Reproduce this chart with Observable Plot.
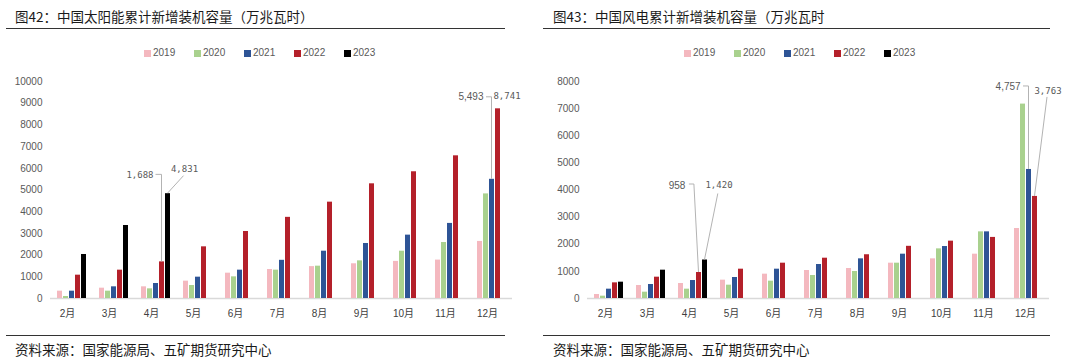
<!DOCTYPE html>
<html>
<head>
<meta charset="utf-8">
<script src="https://cdn.jsdelivr.net/npm/d3@7"></script>
<script src="https://cdn.jsdelivr.net/npm/@observablehq/plot@0.6"></script>
<style>
  html, body { margin: 0; padding: 0; background: #fff; }
  body { width: 1080px; height: 360px; overflow: hidden; position: relative; font-family: "Noto Sans CJK SC", "Liberation Sans", sans-serif; }
  .panel { position: absolute; top: 0; width: 540px; height: 360px; }
  .title { position: absolute; top: 6px; font-size: 13.5px; line-height: 20px; color: #1a1a1a; white-space: nowrap; }
  .rule { position: absolute; height: 1px; background: #333; }
  .legend { position: absolute; top: 46px; left: 0; height: 14px; }
  .item { position: absolute; top: 0; height: 14px; font-family: "Liberation Sans", Arial, sans-serif; font-size: 10px; line-height: 14px; color: #595959; white-space: nowrap; }
  .sw { position: absolute; left: 0; top: 4px; width: 7px; height: 7px; }
  .item span.t { position: absolute; left: 9px; top: 0; }
  .chart { position: absolute; top: 62px; left: 0; }
  .caption { position: absolute; top: 339px; font-size: 13.5px; line-height: 20px; color: #1a1a1a; white-space: nowrap; }
</style>
</head>
<body>
<div id="left" class="panel" style="left:0"></div>
<div id="right" class="panel" style="left:540px"></div>
<script>
// ---------- data ----------
const months = ["2月", "3月", "4月", "5月", "6月", "7月", "8月", "9月", "10月", "11月", "12月"];
const years = ["2019", "2020", "2021", "2022", "2023"];
const yearColors = ["#F4B8BF", "#A9D18E", "#2E5496", "#B4202A", "#000000"];

// 太阳能 (万千瓦)
const solar2019 = [338, 476, 538, 799, 1167, 1336, 1470, 1600, 1710, 1770, 2630];
const solar2020 = [92, 338, 445, 599, 998, 1306, 1490, 1735, 2180, 2580, 4820];
const solar2021 = [338, 538, 691, 983, 1306, 1760, 2180, 2535, 2920, 3460, 5493];
const solar2022 = [1075, 1306, 1688, 2381, 3088, 3740, 4440, 5285, 5840, 6575, 8741];
const solar2023 = [2028, 3364, 4831];
const solarTicks = [0, 1000, 2000, 3000, 4000, 5000, 6000, 7000, 8000, 9000, 10000];

// 风电 (万千瓦)
const wind2019 = [147, 479, 553, 676, 897, 1032, 1106, 1302, 1462, 1634, 2580];
const wind2020 = [86, 233, 344, 491, 639, 848, 995, 1302, 1830, 2457, 7167];
const wind2021 = [344, 516, 663, 774, 1081, 1253, 1462, 1634, 1916, 2457, 4757];
const wind2022 = [577, 786, 958, 1081, 1302, 1486, 1613, 1924, 2114, 2252, 3763];
const wind2023 = [602, 1044, 1420];
const windTicks = [0, 1000, 2000, 3000, 4000, 5000, 6000, 7000, 8000];

const solarTitle = "图42：中国太阳能累计新增装机容量（万兆瓦时）";
const windTitle = "图43：中国风电累计新增装机容量（万兆瓦时";
const sourceText = "资料来源：国家能源局、五矿期货研究中心";

// labelled bars: [month index, year index]
const solarLabelled = [[2, 3], [2, 4], [10, 2], [10, 3]];
const windLabelled = [[2, 3], [2, 4], [10, 2], [10, 3]];

// ---------- annotation styling (pixel offsets from bar top) ----------
const solarNoteStyle = [
  {mono: true, anchor: "end", dx: -8.5, dy: -87, path: [[0, 0], [0, -87], [-6, -87]]},
  {mono: true, anchor: "middle", dx: 16.5, dy: -25, path: [[0, 0], [16, -17.5]]},
  {mono: false, anchor: "end", dx: -8.5, dy: -83, path: [[0, 0], [0, -82], [-5.5, -82]]},
  {mono: true, anchor: "middle", dx: 9, dy: -12.5, path: null}
];
const windNoteStyle = [
  {mono: false, anchor: "end", dx: -13.6, dy: -87, path: [[0, 0], [-4.6, -88], [-9.6, -88]]},
  {mono: true, anchor: "middle", dx: 14, dy: -74.5, path: [[0, 0], [13.3, -66]]},
  {mono: false, anchor: "end", dx: -8.4, dy: -82.3, path: [[0, 0], [0, -83], [-5.5, -83]]},
  {mono: true, anchor: "middle", dx: 13, dy: -105, path: [[0, 0], [12.5, -99]]}
];

const fmt = d3.format(",");

function buildRows(series) {
  return years.flatMap((yr, i) => series[i].map((v, j) => ({month: months[j], year: yr, value: v})));
}

function noteMarks(series, labelled, styles) {
  const marks = [];
  labelled.forEach(([mi, yi], k) => {
    const st = styles[k];
    const d = {month: months[mi], year: years[yi], value: series[yi][mi]};
    if (st.path) {
      marks.push(Plot.dot([d], {
        fx: "month", x: "year", y: "value",
        render(index, scales, values) {
          const g = d3.create("svg:g");
          const bw = typeof scales.x.bandwidth === "function" ? scales.x.bandwidth() : (scales.x.bandwidth || 0);
          for (const i of index) {
            const cx = values.x[i] + bw / 2;
            const cy = values.y[i];
            const line = d3.line()(st.path.map(([px, py]) => [cx + px, cy + py]));
            g.append("path").attr("d", line).attr("fill", "none").attr("stroke", "#b3b3b3").attr("stroke-width", 1);
          }
          return g.node();
        }
      }));
    }
    marks.push(Plot.text([d], {
      fx: "month", x: "year", y: "value",
      text: (r) => fmt(r.value),
      dx: st.dx, dy: st.dy, textAnchor: st.anchor,
      fontFamily: st.mono ? "DejaVu Sans Mono, Liberation Mono, monospace" : "Liberation Sans, Arial, sans-serif",
      fontSize: st.mono ? 9 : 10,
      fill: "#595959"
    }));
  });
  return marks;
}

function chart(series, ticks, labelled, styles, marginLeft, labelShift) {
  return Plot.plot({
    width: 540,
    height: 266,
    marginTop: 19,
    marginBottom: 30,
    marginLeft,
    marginRight: 27,
    style: {fontFamily: "Liberation Sans, Arial, 'Noto Sans CJK SC', sans-serif", fontSize: "10px", color: "#595959", background: "#fff", overflow: "visible"},
    fx: {domain: months, padding: 0, label: null},
    x: {domain: years, axis: null, paddingInner: 0.2, paddingOuter: 0.9},
    y: {domain: [0, ticks[ticks.length - 1]], ticks, tickFormat: (d) => String(d), tickSize: 0, tickPadding: 8, label: null},
    color: {domain: years, range: yearColors},
    marks: [
      Plot.axisFx({anchor: "bottom", tickSize: 0, tickPadding: 11, label: null, dx: labelShift, fill: "#404040"}),
      Plot.ruleY([0], {stroke: "#d9d9d9", strokeWidth: 1.5}),
      Plot.barY(buildRows(series), {fx: "month", x: "year", y: "value", fill: "year"}),
      ...noteMarks(series, labelled, styles)
    ]
  });
}

function panel(el, title, series, ticks, labelled, styles, o) {
  const t = document.createElement("div");
  t.className = "title"; t.style.left = o.titleLeft + "px"; t.textContent = title;
  el.appendChild(t);
  const r1 = document.createElement("div");
  r1.className = "rule"; r1.style.top = "28px"; r1.style.left = o.ruleLeft + "px"; r1.style.width = o.ruleWidth + "px";
  el.appendChild(r1);
  const lg = document.createElement("div");
  lg.className = "legend";
  years.forEach((y, i) => {
    const it = document.createElement("div");
    it.className = "item"; it.style.left = (144 + 50 * i) + "px";
    const sw = document.createElement("span"); sw.className = "sw"; sw.style.background = yearColors[i];
    const tx = document.createElement("span"); tx.className = "t"; tx.textContent = y;
    it.appendChild(sw); it.appendChild(tx);
    lg.appendChild(it);
  });
  el.appendChild(lg);
  const c = document.createElement("div");
  c.className = "chart";
  c.appendChild(chart(series, ticks, labelled, styles, o.marginLeft, o.labelShift));
  el.appendChild(c);
  const r2 = document.createElement("div");
  r2.className = "rule"; r2.style.top = "335px"; r2.style.left = o.ruleLeft + "px"; r2.style.width = o.ruleWidth + "px";
  el.appendChild(r2);
  const cap = document.createElement("div");
  cap.className = "caption"; cap.style.left = o.titleLeft + "px"; cap.textContent = sourceText;
  el.appendChild(cap);
}

panel(document.getElementById("left"), solarTitle,
  [solar2019, solar2020, solar2021, solar2022, solar2023], solarTicks, solarLabelled, solarNoteStyle,
  {titleLeft: 15, ruleLeft: 6, ruleWidth: 499, marginLeft: 48, labelShift: -4});
panel(document.getElementById("right"), windTitle,
  [wind2019, wind2020, wind2021, wind2022, wind2023], windTicks, windLabelled, windNoteStyle,
  {titleLeft: 13, ruleLeft: 3, ruleWidth: 507, marginLeft: 43, labelShift: -3});
</script>
</body>
</html>
